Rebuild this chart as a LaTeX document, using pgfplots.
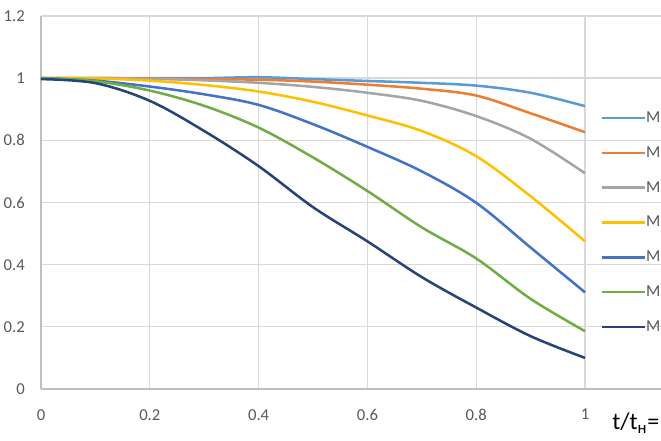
\documentclass[border=0pt]{standalone}
\usepackage{pgfplots}
\pgfplotsset{compat=1.18}
\usepackage{fontspec}
\setmainfont{Carlito}
\definecolor{c1}{HTML}{5B9BD5}
\definecolor{c2}{HTML}{ED7D31}
\definecolor{c3}{HTML}{A5A5A5}
\definecolor{c4}{HTML}{FFC000}
\definecolor{c5}{HTML}{4472C4}
\definecolor{c6}{HTML}{70AD47}
\definecolor{c7}{HTML}{264478}
\definecolor{gridc}{HTML}{D9D9D9}
\definecolor{axc}{HTML}{BFBFBF}
\definecolor{txt}{HTML}{595959}
\begin{document}
\begin{tikzpicture}
\path[use as bounding box] (0,0) rectangle (495.75pt,330.75pt);
\begin{axis}[
  at={(30.75pt,39pt)}, anchor=south west,
  scale only axis, width=465pt, height=279.75pt,
  xmin=0, xmax=1.1397, ymin=0, ymax=1.2,
  xtick={0,0.2,0.4,0.6,0.8,1}, ytick={0,0.2,0.4,0.6,0.8,1,1.2},
  axis x line*=bottom, axis y line*=left,
  axis line style={draw=axc, line width=1pt, -},
  grid=major, grid style={draw=gridc, line width=1pt},
  major tick length=0pt,
  /pgf/number format/assume math mode=true,
  ticklabel style={font=\fontsize{12.5}{14}\selectfont, text=txt, inner sep=0pt},
  yticklabel style={xshift=-12pt},
  xticklabel style={yshift=-15pt},
  every axis plot/.append style={line width=1.9pt, smooth, tension=0.55},
  legend style={at={(0.9016,0.744)}, anchor=north west, draw=none, fill=none,
    font=\fontsize{12.5}{14}\selectfont, text=txt, row sep=16.6pt, inner sep=0pt,
    nodes={inner sep=0pt}},
  legend cell align=left,
  legend image code/.code={\draw[#1, line width=1.9pt] (0pt,0pt) -- (31.5pt,0pt); \path (0pt,0pt) -- (32.5pt,0pt);},
]
\addplot[c1] coordinates {(0,1.0) (0.1,1.0) (0.2,1.0) (0.3,1.0) (0.4,1.003) (0.5,0.997) (0.6,0.991) (0.7,0.985) (0.8,0.976) (0.9,0.953) (1.0,0.91)};
\addlegendentry{M}
\addplot[c2] coordinates {(0,1.0) (0.1,1.0) (0.2,0.999) (0.3,0.997) (0.4,0.995) (0.5,0.989) (0.6,0.979) (0.7,0.966) (0.8,0.944) (0.9,0.887) (1.0,0.826)};
\addlegendentry{M}
\addplot[c3] coordinates {(0,1.0) (0.1,1.0) (0.2,0.998) (0.3,0.993) (0.4,0.985) (0.5,0.972) (0.6,0.953) (0.7,0.927) (0.8,0.878) (0.9,0.805) (1.0,0.694)};
\addlegendentry{M}
\addplot[c4] coordinates {(0,1.0) (0.1,0.999) (0.2,0.992) (0.3,0.978) (0.4,0.957) (0.5,0.924) (0.6,0.88) (0.7,0.83) (0.8,0.749) (0.9,0.62) (1.0,0.475)};
\addlegendentry{M}
\addplot[c5] coordinates {(0,1.0) (0.1,0.992) (0.2,0.973) (0.3,0.948) (0.4,0.914) (0.5,0.852) (0.6,0.779) (0.7,0.70) (0.8,0.599) (0.9,0.455) (1.0,0.311)};
\addlegendentry{M}
\addplot[c6] coordinates {(0,1.0) (0.1,0.99) (0.2,0.96) (0.3,0.911) (0.4,0.841) (0.5,0.745) (0.6,0.637) (0.7,0.52) (0.8,0.42) (0.9,0.29) (1.0,0.186)};
\addlegendentry{M}
\addplot[c7] coordinates {(0,0.997) (0.1,0.984) (0.2,0.927) (0.3,0.83) (0.4,0.717) (0.5,0.585) (0.6,0.475) (0.7,0.36) (0.8,0.262) (0.9,0.17) (1.0,0.1)};
\addlegendentry{M}
\end{axis}
\node[anchor=base west, inner sep=0pt, font=\fontsize{18}{20}\selectfont] at (459pt,8.25pt) {t/t\textsubscript{н}=};
\end{tikzpicture}
\end{document}
